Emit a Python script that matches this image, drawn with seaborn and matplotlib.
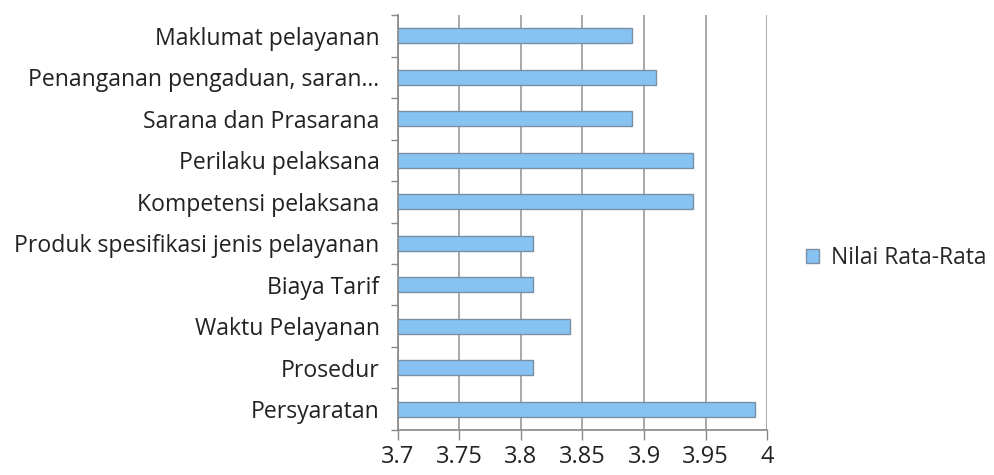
import pandas as pd
import numpy as np
import matplotlib.pyplot as plt
import seaborn as sns
from matplotlib.patches import Patch

# Aspek layanan dan nilai rata-rata
aspek = ['Maklumat pelayanan', 'Penanganan pengaduan, saran...', 'Sarana dan Prasarana',
         'Perilaku pelaksana', 'Kompetensi pelaksana', 'Produk spesifikasi jenis pelayanan',
         'Biaya Tarif', 'Waktu Pelayanan', 'Prosedur', 'Persyaratan']
nilai = [3.89, 3.91, 3.89, 3.94, 3.94, 3.81, 3.81, 3.84, 3.81, 3.99]
x_ticks = [3.7, 3.75, 3.8, 3.85, 3.9, 3.95, 4.0]
x_labels = ['3.7', '3.75', '3.8', '3.85', '3.9', '3.95', '4']
seri = 'Nilai Rata-Rata'

df = pd.DataFrame({'aspek': aspek, 'nilai': nilai})

sns.set_style('white')
plt.rcParams['font.family'] = ['Open Sans', 'DejaVu Sans']

fig, ax = plt.subplots(figsize=(9.94, 4.75), dpi=100)
fig.subplots_adjust(left=0.4, right=0.772, top=0.968, bottom=0.095)

bar_col = '#86c3f2'
edge_col = '#7a8fa3'
sns.barplot(data=df, y='aspek', x='nilai', orient='h', color=bar_col,
            edgecolor=edge_col, linewidth=1.0, width=0.36, ax=ax, saturation=1)

ax.set_xlim(3.7, 4.0)
ax.set_xticks(x_ticks)
ax.set_xticklabels(x_labels, fontsize=17, color='#222222')
ax.set_ylim(len(aspek) - 0.5, -0.5)
ax.tick_params(axis='y', labelsize=16.6, colors='#222222', left=True, length=0, pad=13)
ax.tick_params(axis='x', bottom=True, length=7, width=1, color='#888888',
               direction='out', pad=4)
ax.set_yticks(np.arange(-0.5, len(aspek), 1), minor=True)
ax.tick_params(axis='y', which='minor', left=True, length=5, width=1,
               color='#888888', direction='out')
ax.set_xlabel('')
ax.set_ylabel('')

ax.grid(axis='x', color='#9a9a9a', linewidth=1.2)
ax.set_axisbelow(True)
for s in ['top', 'right']:
    ax.spines[s].set_visible(False)
for s in ['left', 'bottom']:
    ax.spines[s].set_color('#888888')
    ax.spines[s].set_linewidth(1.2)

handle = Patch(facecolor=bar_col, edgecolor=edge_col, label=seri)
fig.legend(handles=[handle], loc='center left', bbox_to_anchor=(0.811, 0.456),
           frameon=False, fontsize=16.5, handlelength=0.55, handleheight=0.55,
           handletextpad=0.55, borderpad=0, borderaxespad=0)

fig.savefig('out.png', dpi=100, facecolor='white')
